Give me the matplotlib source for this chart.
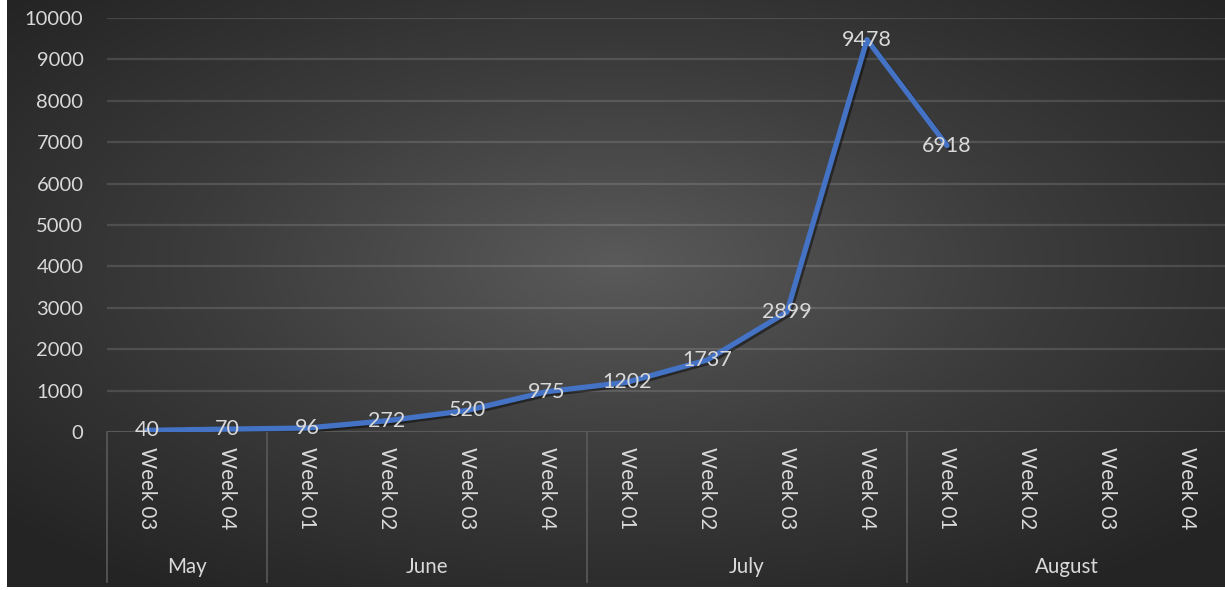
import numpy as np
import matplotlib
matplotlib.use("Agg")
import matplotlib.pyplot as plt
import matplotlib.patheffects as pe
from matplotlib.colors import LinearSegmentedColormap

plt.rcParams['font.family'] = ['Lato', 'DejaVu Sans']

months = ["May", "June", "July", "August"]
month_weeks = [["Week 03", "Week 04"],
               ["Week 01", "Week 02", "Week 03", "Week 04"],
               ["Week 01", "Week 02", "Week 03", "Week 04"],
               ["Week 01", "Week 02", "Week 03", "Week 04"]]
values = [40, 70, 96, 272, 520, 975, 1202, 1737, 2899, 9478, 6918, None, None, None]
y_ticks = list(range(0, 10001, 1000))

W, H = 1225, 590
fig = plt.figure(figsize=(W / 100, H / 100), dpi=100)
fig.patch.set_facecolor("white")

# background radial gradient
bg = fig.add_axes([7 / W, 3 / H, 1 - 7 / W, 1 - 3 / H])
bg.set_axis_off()
nx, ny = 400, 200
xx, yy = np.meshgrid(np.linspace(-1, 1, nx), np.linspace(-1, 1, ny))
r = np.sqrt(((xx - 0.0) / 1.0) ** 2 + ((yy - 0.1) / 1.0) ** 2)
r = np.clip(r / 1.35, 0, 1)
cmap = LinearSegmentedColormap.from_list("g", ["#5a5a5a", "#3c3c3c", "#242424"])
bg.imshow(r, cmap=cmap, aspect="auto", extent=[0, 1, 0, 1], origin="lower", vmin=0, vmax=1)
bg.set_xlim(0, 1)
bg.set_ylim(0, 1)

# main axes
left, right, top, bottom = 107, 1227, 18, 432
ax = fig.add_axes([left / W, (H - bottom) / H, (right - left) / W, (bottom - top) / H])
ax.set_facecolor("none")
for s in ax.spines.values():
    s.set_visible(False)

labels = [w for ws in month_weeks for w in ws]
n = len(labels)
x = np.arange(n) + 0.5
yv = np.array([np.nan if v is None else v for v in values], dtype=float)

ax.set_xlim(0, n)
ax.set_ylim(0, 10000)
ax.set_yticks(y_ticks)
ax.set_yticklabels([str(t) for t in y_ticks])
ax.grid(axis="y", color="white", alpha=0.13, linewidth=1.6)
ax.set_axisbelow(True)
ax.tick_params(axis="y", length=0, pad=17, labelsize=14.5, labelcolor="#d9d9d9")
ax.set_xticks(x)
ax.set_xticklabels(labels, rotation=-90, va="top", ha="center")
ax.tick_params(axis="x", length=0, pad=11, labelsize=14.8, labelcolor="#d9d9d9")

line, = ax.plot(x, yv, color="#4472c4", linewidth=3.8, solid_capstyle="round",
                solid_joinstyle="round", zorder=3,
                path_effects=[pe.SimpleLineShadow(offset=(1.5, -1.5), shadow_color="black", alpha=0.45),
                              pe.Normal()])
for xi, v in zip(x, yv):
    if not np.isnan(v):
        ax.text(xi, v, f"{int(v)}", ha="center", va="center", fontsize=15.5,
                color="#d9d9d9", zorder=4)

# group separators and month labels
trans = ax.get_xaxis_transform()
axh = bottom - top
sep_bottom = (bottom - 582) / axh
ax.axhline(0, color="#5a5a5a", linewidth=1.2, zorder=1)
pos = 0
for m, ws in zip(months, month_weeks):
    ax.plot([pos, pos], [0, sep_bottom], transform=trans, color="#5a5a5a",
            linewidth=1.2, clip_on=False)
    ax.text(pos + len(ws) / 2, (bottom - 567) / axh, m, transform=trans,
            ha="center", va="center", fontsize=14.8, color="#d9d9d9", clip_on=False)
    pos += len(ws)

fig.savefig("out.png", dpi=100, facecolor=fig.get_facecolor())
